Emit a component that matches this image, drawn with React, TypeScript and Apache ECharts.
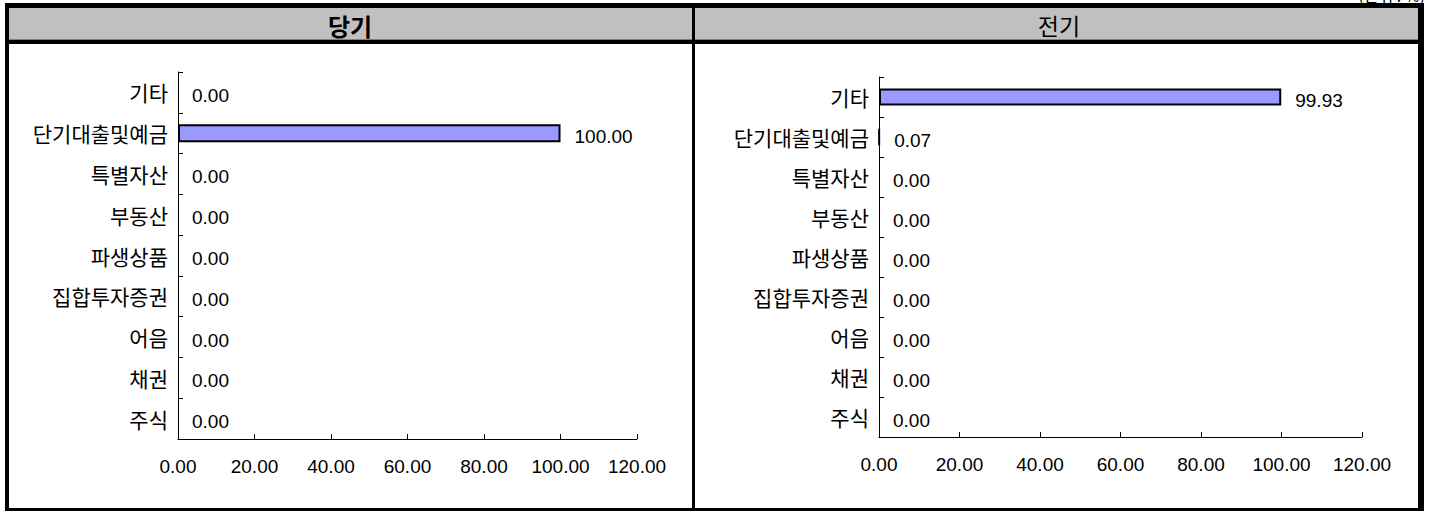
import React, { useEffect, useRef } from "react";
import * as echarts from "echarts";

// Categories, top to bottom
const categories = ["기타", "단기대출및예금", "특별자산", "부동산", "파생상품", "집합투자증권", "어음", "채권", "주식"];
// 당기 (current period) values, %
const currentValues = [0, 100, 0, 0, 0, 0, 0, 0, 0];
// 전기 (previous period) values, %
const previousValues = [99.93, 0.07, 0, 0, 0, 0, 0, 0, 0];
// Panel titles
const panelTitles = ["당기", "전기"];
const unitNote = "(단위 : %)";
// x-axis scale
const xMin = 0;
const xMax = 120;
const xInterval = 20;

const KR_FONT = '"Noto Sans CJK KR", sans-serif';
const NUM_FONT = '"Liberation Sans", Arial, sans-serif';

function makeAxes(gridIndex: number) {
  const xAxis = {
    type: "value",
    gridIndex,
    min: xMin,
    max: xMax,
    interval: xInterval,
    axisLine: { show: true, lineStyle: { color: "#000", width: 1 } },
    axisTick: { show: true, inside: true, length: 5, lineStyle: { color: "#000" } },
    splitLine: { show: false },
    axisLabel: {
      color: "#000",
      fontFamily: NUM_FONT,
      fontSize: 19,
      margin: 18,
      formatter: (v: number) => v.toFixed(2),
    },
  };
  const yAxis = {
    type: "category",
    gridIndex,
    inverse: true,
    data: categories,
    axisLine: { show: true, lineStyle: { color: "#000", width: 1 } },
    axisTick: { show: true, inside: true, length: 5, lineStyle: { color: "#000" } },
    axisLabel: { color: "#000", fontFamily: KR_FONT, fontSize: 21, margin: 10 },
    splitLine: { show: false },
  };
  return { xAxis, yAxis };
}

function makeSeries(name: string, values: number[], idx: number, barWidth: number) {
  return {
    type: "bar",
    name,
    xAxisIndex: idx,
    yAxisIndex: idx,
    barWidth,
    data: values.map((v) => ({
      value: v,
      itemStyle: v === 0 ? { borderWidth: 0 } : { borderWidth: 2, borderColor: "#000" },
    })),
    itemStyle: { color: "#9999ff", borderColor: "#000", borderWidth: 2 },
    label: {
      show: true,
      position: "right",
      distance: 14,
      offset: [0, 3],
      color: "#000",
      fontFamily: NUM_FONT,
      fontSize: 19,
      formatter: (p: any) => Number(p.value).toFixed(2),
    },
  };
}

export default function App() {
  const ref = useRef<HTMLDivElement>(null);
  useEffect(() => {
    if (!ref.current) return;
    const chart = echarts.init(ref.current, null, { renderer: "svg" });
    const a0 = makeAxes(0);
    const a1 = makeAxes(1);
    chart.setOption({
      animation: false,
      backgroundColor: "#fff",
      grid: [
        { left: 178, top: 72, width: 459, height: 367, containLabel: false },
        { left: 879, top: 77, width: 483, height: 360, containLabel: false },
      ],
      xAxis: [a0.xAxis, a1.xAxis],
      yAxis: [a0.yAxis, a1.yAxis],
      series: [
        makeSeries(panelTitles[0], currentValues, 0, 18),
        makeSeries(panelTitles[1], previousValues, 1, 17),
      ],
      graphic: [
        // unit note, mostly cut off at the top as in the reference
        {
          type: "text",
          right: 4,
          top: -13,
          z: 1,
          style: { text: unitNote, fill: "#000", font: `16px ${KR_FONT}` },
        },
        // header band
        { type: "rect", shape: { x: 9, y: 8, width: 1409, height: 32 }, style: { fill: "#c0c0c0" }, z: 2 },
        { type: "rect", shape: { x: 9, y: 39, width: 1409, height: 1 }, style: { fill: "#808080" }, z: 3 },
        { type: "rect", shape: { x: 5, y: 40, width: 1419, height: 4 }, style: { fill: "#000" }, z: 3 },
        // outer frame
        { type: "rect", shape: { x: 5, y: 3, width: 1419, height: 5 }, style: { fill: "#000" }, z: 3 },
        { type: "rect", shape: { x: 5, y: 3, width: 4, height: 508 }, style: { fill: "#000" }, z: 3 },
        { type: "rect", shape: { x: 1418, y: 3, width: 6, height: 508 }, style: { fill: "#000" }, z: 3 },
        { type: "rect", shape: { x: 5, y: 508, width: 1419, height: 3 }, style: { fill: "#000" }, z: 3 },
        // divider
        { type: "rect", shape: { x: 692, y: 3, width: 3, height: 508 }, style: { fill: "#000" }, z: 3 },
        // titles
        {
          type: "text",
          x: 350,
          y: 25,
          z: 4,
          style: {
            text: panelTitles[0],
            fill: "#000",
            font: `bold 24px ${KR_FONT}`,
            textAlign: "center",
            textVerticalAlign: "middle",
          },
        },
        {
          type: "text",
          x: 1059,
          y: 25,
          z: 4,
          style: {
            text: panelTitles[1],
            fill: "#000",
            font: `23px ${KR_FONT}`,
            textAlign: "center",
            textVerticalAlign: "middle",
          },
        },
      ],
    });
    return () => chart.dispose();
  }, []);
  return (
    <div
      ref={ref}
      style={{ position: "fixed", left: 0, top: 0, width: 1429, height: 511, background: "#fff" }}
    />
  );
}
